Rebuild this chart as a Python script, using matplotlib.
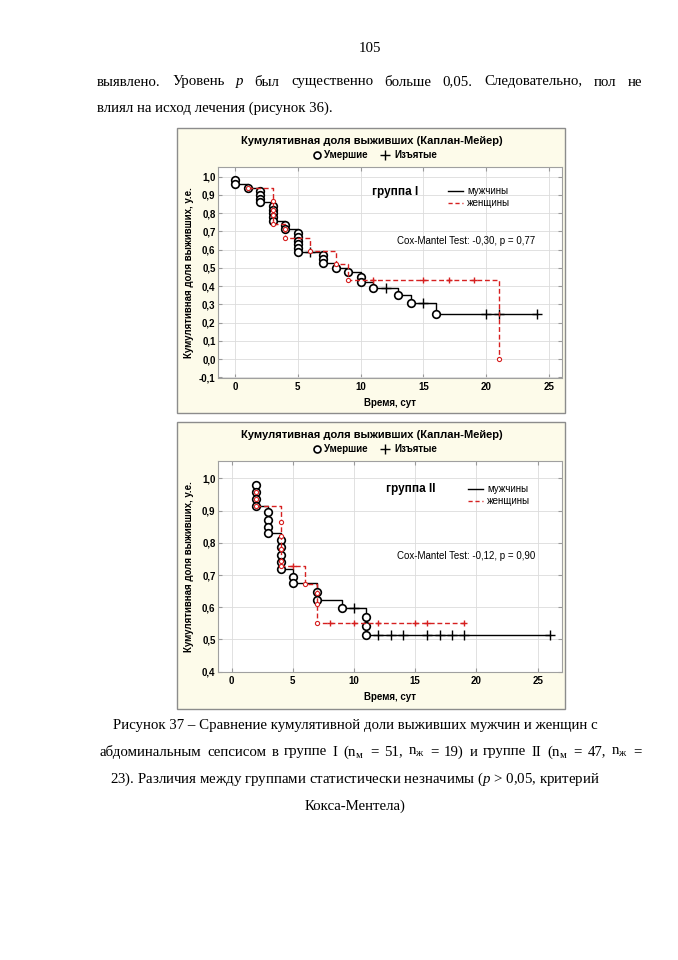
import matplotlib
matplotlib.use("Agg")
import matplotlib.pyplot as plt
from matplotlib.lines import Line2D
from matplotlib.patches import Rectangle

W, H = 678, 960

# ---- group I: men (black) ----
m1_t = [0, 1, 2, 3, 4, 5, 7, 8, 9, 10, 11, 13, 14, 16, 24]
m1_s = [0.96, 0.94, 0.86, 0.76, 0.715, 0.59, 0.525, 0.50, 0.475, 0.425, 0.39, 0.35, 0.31, 0.245, 0.245]
m1_dead_t = [0, 0, 1, 2, 2, 2, 2, 3, 3, 3, 3, 3, 4, 4, 5, 5, 5, 5, 5, 5, 7, 7, 7, 8, 9, 10, 10, 11, 13, 14, 16]
m1_dead_s = [0.98, 0.96, 0.94, 0.92, 0.90, 0.88, 0.86, 0.84, 0.82, 0.80, 0.78, 0.76, 0.735, 0.715,
             0.69, 0.67, 0.65, 0.63, 0.61, 0.59, 0.57, 0.55, 0.525, 0.50, 0.475, 0.45, 0.425,
             0.39, 0.35, 0.31, 0.245]
m1_cens_t = [6, 12, 15, 20, 21, 24]
m1_cens_s = [0.59, 0.39, 0.31, 0.245, 0.245, 0.245]

# ---- group I: women (red) ----
f1_t = [1, 3, 4, 6, 8, 9, 21]
f1_s = [0.94, 0.74, 0.665, 0.595, 0.52, 0.435, 0.0]
f1_dead_t = [1, 3, 3, 3, 3, 4, 4, 6, 8, 9, 21]
f1_dead_s = [0.94, 0.868, 0.82, 0.79, 0.74, 0.715, 0.665, 0.595, 0.52, 0.435, 0.0]
f1_cens_t = [11, 15, 17, 19]
f1_cens_s = [0.435, 0.435, 0.435, 0.435]

# ---- group II: men ----
m2_t = [2, 3, 4, 5, 7, 9, 11, 26]
m2_s = [0.914, 0.829, 0.718, 0.674, 0.624, 0.599, 0.513, 0.513]
m2_dead_t = [2, 2, 2, 2, 3, 3, 3, 3, 4, 4, 4, 4, 4, 5, 5, 7, 7, 9, 11, 11, 11]
m2_dead_s = [0.981, 0.959, 0.936, 0.914, 0.896, 0.872, 0.85, 0.829, 0.809, 0.786, 0.762, 0.741,
             0.718, 0.695, 0.674, 0.648, 0.624, 0.599, 0.571, 0.542, 0.513]
m2_cens_t = [10, 12, 13, 14, 16, 17, 18, 19, 26]
m2_cens_s = [0.599, 0.513, 0.513, 0.513, 0.513, 0.513, 0.513, 0.513, 0.513]

# ---- group II: women ----
f2_t = [2, 4, 6, 7, 19]
f2_s = [0.913, 0.727, 0.672, 0.55, 0.55]
f2_dead_t = [2, 2, 2, 4, 4, 4, 4, 4, 6, 7, 7, 7]
f2_dead_s = [0.957, 0.935, 0.913, 0.865, 0.82, 0.78, 0.745, 0.727, 0.672, 0.645, 0.61, 0.55]
f2_cens_t = [5, 8, 10, 12, 15, 16, 19]
f2_cens_s = [0.727, 0.55, 0.55, 0.55, 0.55, 0.55, 0.55]

x_ticks = [0, 5, 10, 15, 20, 25]
y_ticks1 = [-0.1, 0.0, 0.1, 0.2, 0.3, 0.4, 0.5, 0.6, 0.7, 0.8, 0.9, 1.0]
y_ticks2 = [0.4, 0.5, 0.6, 0.7, 0.8, 0.9, 1.0]

RED = "#d62020"
SANS = "Liberation Sans"
SERIF = "Liberation Serif"

plt.rcParams["mathtext.fontset"] = "custom"
plt.rcParams["mathtext.rm"] = SERIF
plt.rcParams["mathtext.it"] = SERIF + ":italic"

fig = plt.figure(figsize=(W / 100, H / 100), dpi=100)
renderer = fig.canvas.get_renderer()


def fx(x):
    return x / W


def fy(y):
    return 1 - y / H


def comma(v):
    return f"{v:.1f}".replace(".", ",")


def panel(top, bottom, ax_top, ax_bot, xlim, ylim, yt, grp, grp_x, leg_x, leg_y, cox, cox_y, data):
    fig.add_artist(Rectangle((fx(177), fy(bottom)), (565 - 177) / W, (bottom - top) / H,
                             transform=fig.transFigure, fc="#fdfbea", ec="#8c8c8c", lw=1.0,
                             zorder=-5))
    fig.text(fx(372), fy(top + 12.5), "Кумулятивная доля выживших (Каплан-Мейер)",
             family=SANS, weight="bold", size=8, ha="center", va="center")
    sy = top + 27
    fig.add_artist(Line2D([fx(317)], [fy(sy)], marker="o", ms=5, mfc="white", mec="black", mew=1.2,
                          transform=fig.transFigure))
    fig.text(fx(324), fy(sy), "Умершие", family=SANS, weight="bold", size=7, ha="left", va="center")
    fig.add_artist(Line2D([fx(385)], [fy(sy)], marker="+", ms=7, color="black", mew=1.0,
                          transform=fig.transFigure))
    fig.text(fx(394), fy(sy), "Изъятые", family=SANS, weight="bold", size=7, ha="left", va="center")

    ax = fig.add_axes([fx(218.3), fy(ax_bot), (561.7 - 218.3) / W, (ax_bot - ax_top) / H])
    ax.set_facecolor("white")
    (mt, ms, mdt, mds, mct, mcs, ft, fs, fdt, fds, fct, fcs) = data
    ax.step(mt, ms, where="post", color="black", lw=1.0, zorder=3)
    ax.plot(mct, mcs, "+", color="black", ms=7, mew=1.0, zorder=3)
    ax.plot(mdt, mds, "o", ms=5.5, mfc="white", mec="black", mew=1.2, zorder=4)
    ax.step(ft, fs, where="post", color=RED, lw=1.0, ls=(0, (3.5, 2)), zorder=5)
    ax.plot(fct, fcs, "+", color=RED, ms=4.5, mew=1.0, zorder=5)
    ax.plot(fdt, fds, "o", ms=3, mfc="white", mec=RED, mew=0.8, zorder=6)

    ax.set_xlim(*xlim)
    ax.set_ylim(*ylim)
    ax.set_xticks(x_ticks)
    ax.set_xticklabels([str(v) for v in x_ticks], family=SANS, weight="bold", size=7)
    ax.set_yticks(yt)
    ax.set_yticklabels([comma(v) for v in yt], family=SANS, weight="bold", size=7)
    ax.tick_params(direction="in", length=3, color="#9a9a9a", top=True, right=True, pad=3)
    ax.tick_params(axis="y", pad=2)
    ax.grid(True, color="#dcdcdc", lw=0.6)
    ax.set_axisbelow(True)
    for sp in ax.spines.values():
        sp.set_color("#a0a0a0")
        sp.set_linewidth(0.8)

    fig.text(fx(390), fy(ax_bot + 25), "Время, сут", family=SANS, weight="bold", size=7,
             ha="center", va="center")
    fig.text(fx(188.5), fy((ax_top + ax_bot) / 2), "Кумулятивная доля выживших, у.е.",
             family=SANS, weight="bold", size=7, rotation=90, ha="center", va="center")

    fig.text(fx(grp_x), fy(leg_y + 0.5), grp, family=SANS, weight="bold", size=8.5,
             ha="left", va="center")
    fig.add_artist(Line2D([fx(leg_x), fx(leg_x + 15)], [fy(leg_y), fy(leg_y)], color="black", lw=1.0,
                          transform=fig.transFigure))
    fig.add_artist(Line2D([fx(leg_x), fx(leg_x + 15)], [fy(leg_y + 12), fy(leg_y + 12)], color=RED,
                          lw=1.0, ls=(0, (3, 2)), transform=fig.transFigure))
    fig.text(fx(leg_x + 19), fy(leg_y), "мужчины", family=SANS, size=7, ha="left", va="center")
    fig.text(fx(leg_x + 19), fy(leg_y + 12), "женщины", family=SANS, size=7, ha="left", va="center")
    fig.text(fx(397), fy(cox_y), cox, family=SANS, size=7, ha="left", va="center")


panel(128, 413, 166.7, 378.3, (-1.33, 26.0), (-0.105, 1.055), y_ticks1, "группа I", 372, 448, 191,
      "Cox-Mantel Test: -0,30, p = 0,77", 241.5,
      (m1_t, m1_s, m1_dead_t, m1_dead_s, m1_cens_t, m1_cens_s,
       f1_t, f1_s, f1_dead_t, f1_dead_s, f1_cens_t, f1_cens_s))

panel(422, 709, 461, 671.7, (-1.09, 26.97), (0.4, 1.054), y_ticks2, "группа II", 386, 468, 488.5,
      "Cox-Mantel Test: -0,12, p = 0,90", 556,
      (m2_t, m2_s, m2_dead_t, m2_dead_s, m2_cens_t, m2_cens_s,
       f2_t, f2_s, f2_dead_t, f2_dead_s, f2_cens_t, f2_cens_s))

# ---- page text ----
FS = 10.7


def justify(words, x0, x1, y, italic=()):
    txts = []
    for w in words:
        style = "italic" if w in italic else "normal"
        txts.append(fig.text(0, fy(y), w, family=SERIF, size=FS, style=style, ha="left", va="center"))
    widths = [t.get_window_extent(renderer).width for t in txts]
    gap = (x1 - x0 - sum(widths)) / (len(words) - 1)
    x = x0
    for t, wd in zip(txts, widths):
        t.set_x(fx(x))
        x += wd + gap


fig.text(fx(370), fy(48), "105", family=SERIF, size=FS, ha="center", va="center")

justify(["выявлено.", "Уровень", "p", "был", "существенно", "больше", "0,05.",
         "Следовательно,", "пол", "не"], 97, 642, 82, italic=("p",))
fig.text(fx(97), fy(108), "влиял на исход лечения (рисунок 36).", family=SERIF, size=FS,
         ha="left", va="center")

cap_x = 355
fig.text(fx(cap_x), fy(725), "Рисунок 37 – Сравнение кумулятивной доли выживших мужчин и женщин с",
         family=SERIF, size=FS, ha="center", va="center")
justify(["абдоминальным", "сепсисом", "в", "группе", "I", r"(n$_\mathrm{м}$", "=", "51,",
         r"n$_\mathrm{ж}$", "=", "19)", "и", "группе", "II", r"(n$_\mathrm{м}$", "=", "47,",
         r"n$_\mathrm{ж}$", "="], 100, 642, 752)
fig.text(fx(cap_x), fy(779),
         r"23). Различия между группами статистически незначимы ($p$ > 0,05, критерий",
         family=SERIF, size=FS, ha="center", va="center")
fig.text(fx(cap_x), fy(806), "Кокса-Ментела)", family=SERIF, size=FS, ha="center", va="center")

fig.savefig("out.png", dpi=100, facecolor="white")
